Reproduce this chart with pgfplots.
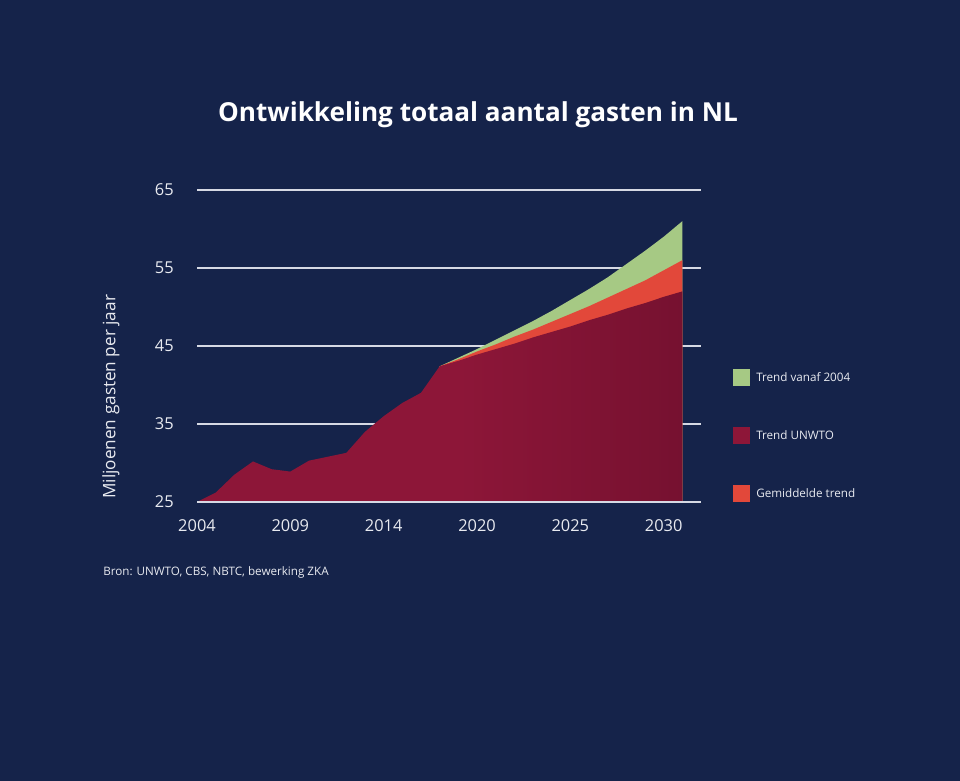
\documentclass[border=0pt]{standalone}
\usepackage{fontspec}
\setmainfont{Open Sans}
\usepackage{pgfplots}
\pgfplotsset{compat=1.18}
\definecolor{bg}{RGB}{21,35,74}
\definecolor{gridc}{RGB}{214,217,228}
\definecolor{txt}{RGB}{232,234,240}
\definecolor{cgreen}{RGB}{166,201,132}
\definecolor{cred}{RGB}{226,72,58}
\definecolor{unwtoA}{RGB}{141,22,56}
\definecolor{unwtoB}{RGB}{118,17,48}
\pgfdeclarehorizontalshading{unwto}{100bp}{color(0bp)=(unwtoA); color(52bp)=(unwtoA); color(75bp)=(unwtoB); color(100bp)=(unwtoB)}
\begin{document}
\begin{tikzpicture}
\fill[bg] (0,0) rectangle (720pt,585.75pt);
\path[use as bounding box] (0,0) rectangle (720pt,585.75pt);
\node[text=white, font=\fontsize{19.6}{22}\selectfont\bfseries, anchor=center] at (358.5pt,500pt) {Ontwikkeling totaal aantal gasten in NL};
\begin{axis}[
  at={(147.75pt,209.25pt)}, anchor=south west,
  scale only axis, width=378pt, height=234pt,
  xmin=2004, xmax=2031, ymin=25, ymax=65,
  axis line style={draw=none},
  major tick length=0pt,
  xtick={2004,2009,2014,2019,2024,2029},
  xticklabels={2004,2009,2014,2020,2025,2030},
  ytick={25,35,45,55,65},
  ymajorgrids, grid style={gridc, line width=1.3pt},
  /pgf/number format/assume math mode=true,
  ticklabel style={text=txt, font=\fontsize{12.3}{14}\selectfont},
  yticklabel style={xshift=-14pt},
  xticklabel style={yshift=-9.5pt},
  ylabel={Miljoenen gasten per jaar},
  every axis y label/.style={at={(axis description cs:-0.1706,0.337)}, rotate=90, anchor=center, text=txt, font=\fontsize{12.9}{15}\selectfont},
  legend style={at={(axis description cs:1.0635,0.426)}, anchor=north west, draw=none, fill=none, text=txt, font=\fontsize{8.75}{10}\selectfont, row sep=30.6pt, inner sep=0pt, nodes={inner xsep=4.5pt}},
  legend cell align=left,
  legend image code/.code={\fill[#1, draw=none] (0pt,-6.4pt) rectangle (12.75pt,6.4pt);},
]
% Trend vanaf 2004
\addplot[fill=cgreen, draw=none, forget plot] coordinates {
(2017,42.4)(2018,43.5)(2019,44.6)(2020,45.8)(2021,47.0)(2022,48.2)(2023,49.5)(2024,50.9)(2025,52.3)(2026,53.8)(2027,55.5)(2028,57.2)(2029,59.0)(2030,61.0)} \closedcycle;
% Gemiddelde trend
\addplot[fill=cred, draw=none, forget plot] coordinates {
(2017,42.4)(2018,43.3)(2019,44.3)(2020,45.2)(2021,46.2)(2022,47.1)(2023,48.1)(2024,49.1)(2025,50.1)(2026,51.2)(2027,52.3)(2028,53.4)(2029,54.7)(2030,56.0)} \closedcycle;
% Trend UNWTO
\addplot[shade, shading=unwto, draw=none, forget plot] coordinates {
(2004,25.0)(2005,26.2)(2006,28.5)(2007,30.2)(2008,29.2)(2009,28.9)(2010,30.3)(2011,30.8)(2012,31.3)(2013,34.0)(2014,36.0)(2015,37.7)(2016,39.0)(2017,42.4)(2018,43.1)(2019,43.9)(2020,44.6)(2021,45.3)(2022,46.1)(2023,46.8)(2024,47.5)(2025,48.3)(2026,49.0)(2027,49.8)(2028,50.5)(2029,51.3)(2030,52.0)} \closedcycle;
\draw[gridc, line width=1.3pt] (rel axis cs:0,0) -- (rel axis cs:1,0);
\addlegendimage{fill=cgreen}
\addlegendentry{Trend vanaf 2004}
\addlegendimage{fill=unwtoA}
\addlegendentry{Trend UNWTO}
\addlegendimage{fill=cred}
\addlegendentry{Gemiddelde trend}
\end{axis}
\node[text=txt, font=\fontsize{8.74}{10}\selectfont, anchor=west, inner sep=0pt] at (77.25pt,156.75pt) {Bron: UNWTO, CBS, NBTC, bewerking ZKA};
\end{tikzpicture}
\end{document}
